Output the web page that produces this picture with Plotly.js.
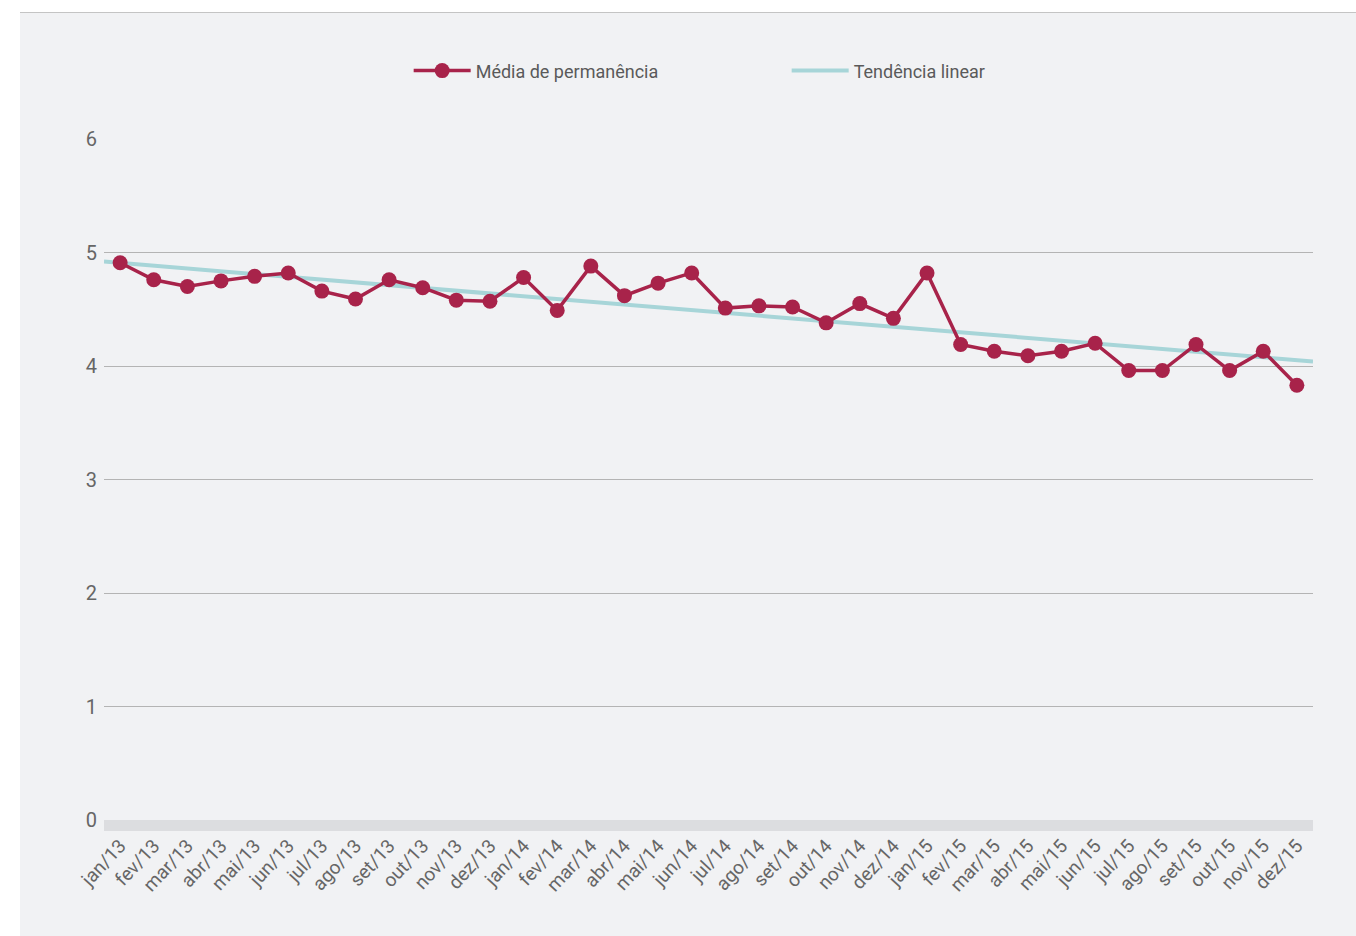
<!DOCTYPE html>
<html>
<head>
<meta charset="utf-8">
<script src="https://cdn.plot.ly/plotly-3.0.1.min.js"></script>
<style>
html,body{margin:0;padding:0;background:#ffffff;}
#chart{position:absolute;left:20px;top:12px;width:1336px;height:923px;border-top:1px solid #c4c4c4;}
</style>
</head>
<body>
<div id="chart"></div>
<script>
const months = ["jan/13","fev/13","mar/13","abr/13","mai/13","jun/13","jul/13","ago/13","set/13","out/13","nov/13","dez/13",
"jan/14","fev/14","mar/14","abr/14","mai/14","jun/14","jul/14","ago/14","set/14","out/14","nov/14","dez/14",
"jan/15","fev/15","mar/15","abr/15","mai/15","jun/15","jul/15","ago/15","set/15","out/15","nov/15","dez/15"];
const mediaPermanencia = [4.91,4.76,4.70,4.75,4.79,4.82,4.66,4.59,4.76,4.69,4.58,4.57,
4.78,4.49,4.88,4.62,4.73,4.82,4.51,4.53,4.52,4.38,4.55,4.42,
4.82,4.19,4.13,4.09,4.13,4.20,3.96,3.96,4.19,3.96,4.13,3.83];
const trendX = [-0.48, 35.48];
const trendY = [4.92, 4.04];
const yTicks = [0,1,2,3,4,5,6];

const idx = months.map((m,i)=>i);
const font = "Roboto, Arial, sans-serif";

const traces = [
  {x: idx, y: mediaPermanencia, type:'scatter', mode:'lines+markers', name:'Média de permanência',
   line:{color:'#a8234a', width:3.5}, marker:{color:'#a8234a', size:15}},
  {x: trendX, y: trendY, type:'scatter', mode:'lines', name:'Tendência linear',
   line:{color:'#a7d5d8', width:4}}
];
traces.reverse();

const layout = {
  width:1336, height:923,
  paper_bgcolor:'#f1f2f4', plot_bgcolor:'#f1f2f4',
  margin:{l:84, r:43, t:126, b:116},
  font:{family:font, color:'#666666', size:18},
  showlegend:true,
  legend:{orientation:'h', x:0.252, xanchor:'left', y:1.10, yanchor:'middle', itemwidth:57,
          traceorder:'reversed', font:{size:18, color:'#5a5a5a'}, entrywidth:306, bgcolor:'rgba(0,0,0,0)'},
  xaxis:{range:[-0.48,35.48], tickvals:idx, ticktext:months, tickangle:-47, showgrid:false, zeroline:false,
         showline:false, ticks:'', ticklabelstandoff:10, tickfont:{size:19, color:'#666666'}, fixedrange:true},
  yaxis:{range:[0,6], tickvals:yTicks, showgrid:true, gridcolor:'#b4b4b4', gridwidth:1, zeroline:false,
         showline:false, ticks:'', ticklabelstandoff:6, tickfont:{size:20, color:'#666666'}},
  shapes:[{type:'rect', xref:'paper', x0:0, x1:1, yref:'paper', ysizemode:'pixel', yanchor:0, y0:-11, y1:0,
           fillcolor:'#dcdde0', line:{width:0}, layer:'below'}]
};
Plotly.newPlot('chart', traces, layout, {displayModeBar:false, staticPlot:true});
</script>
</body>
</html>
